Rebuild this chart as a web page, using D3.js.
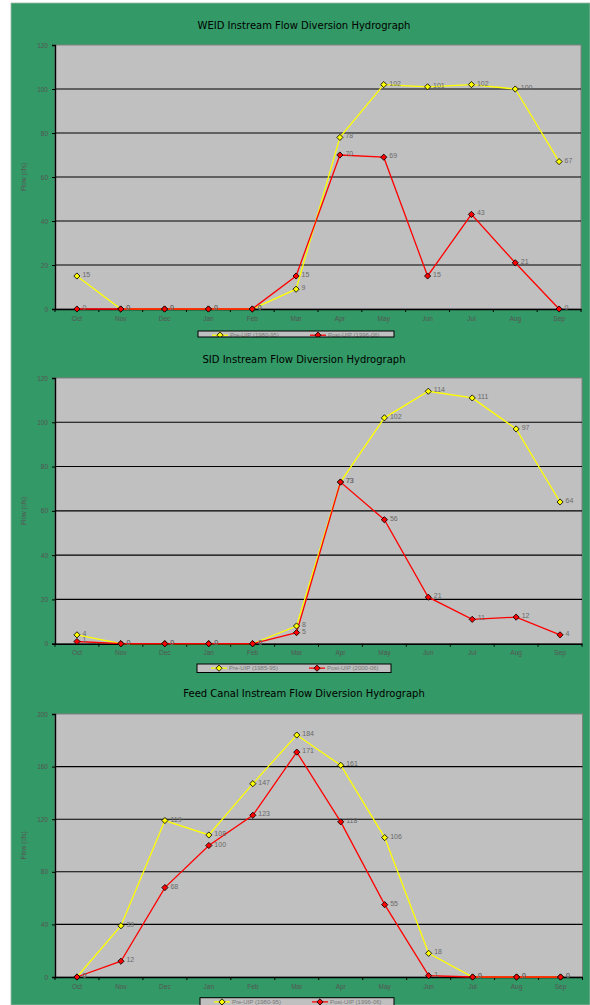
<!DOCTYPE html>
<html>
<head>
<meta charset="utf-8">
<script src="https://cdn.jsdelivr.net/npm/d3@7"></script>
<style>
  html, body { margin: 0; padding: 0; background: #ffffff; }
  svg { display: block; }
</style>
</head>
<body>
<svg id="chart" width="590" height="1005"></svg>
<script>
// Months of the water year
const months = ["Oct", "Nov", "Dec", "Jan", "Feb", "Mar", "Apr", "May", "Jun", "Jul", "Aug", "Sep"];

// WEID diversions (cfs)
const weidPre  = [15, 0, 0, 0, 0, 9, 78, 102, 101, 102, 100, 67];
const weidPost = [0, 0, 0, 0, 0, 15, 70, 69, 15, 43, 21, 0];

// SID diversions (cfs)
const sidPre  = [4, 0, 0, 0, 0, 8, 73, 102, 114, 111, 97, 64];
const sidPost = [1, 0, 0, 0, 0, 5, 73, 56, 21, 11, 12, 4];

// Feed Canal diversions (cfs)
const feedPre  = [0, 39, 119, 108, 147, 184, 161, 106, 18, 0, 0, 0];
const feedPost = [0, 12, 68, 100, 123, 171, 118, 55, 1, 0, 0, 0];

// Axis ticks
const ticks120 = [0, 20, 40, 60, 80, 100, 120];
const ticks200 = [0, 40, 80, 120, 160, 200];

// Titles and legend entries
const titles = [
  "WEID Instream Flow Diversion Hydrograph",
  "SID Instream Flow Diversion Hydrograph",
  "Feed Canal Instream Flow Diversion Hydrograph"
];
const legendWeid = ["Pre-UIP (1980-95)", "Post-UIP (1996-06)"];
const legendSid  = ["Pre-UIP (1985-95)", "Post-UIP (2000-06)"];
const legendFeed = ["Pre-UIP (1980-95)", "Post-UIP (1996-06)"];

const svg = d3.select("#chart");
const FONT = "'Liberation Sans', Arial, sans-serif";
const TITLE_FONT = "'DejaVu Sans', Verdana, sans-serif";

// Page backdrop
svg.append("rect").attr("x", 0).attr("y", 0).attr("width", 590).attr("height", 1005).attr("fill", "#ffffff");
svg.append("rect").attr("x", 11).attr("y", 3).attr("width", 579).attr("height", 1002)
  .attr("fill", "#339966").attr("stroke", "#9fb8a8").attr("stroke-width", 0.8);

const panels = [
  { title: titles[0], titleY: 28.5, pre: weidPre, post: weidPost, legend: legendWeid,
    box: { l: 55, r: 581, t: 45, b: 309 }, ticks: ticks120,
    leg: { x: 198, y: 331, w: 196, h: 6 } },
  { title: titles[1], titleY: 362.5, pre: sidPre, post: sidPost, legend: legendSid,
    box: { l: 55, r: 582, t: 378, b: 643.7 }, ticks: ticks120,
    leg: { x: 197, y: 664, w: 194, h: 8.5 } },
  { title: titles[2], titleY: 696.5, pre: feedPre, post: feedPost, legend: legendFeed,
    box: { l: 55, r: 582.5, t: 714, b: 977 }, ticks: ticks200,
    leg: { x: 200, y: 997.7, w: 194, h: 9 } }
];

// Square marker turned 45 degrees gives an even diamond
const diamond = d3.symbol().type(d3.symbolSquare).size(19);
const markerAt = (px, py) => `translate(${px},${py}) rotate(45)`;

panels.forEach((p, pi) => {
  const g = svg.append("g");
  const x = d3.scaleBand().domain(months).range([p.box.l, p.box.r]).padding(0);
  const y = d3.scaleLinear().domain([0, d3.max(p.ticks)]).range([p.box.b, p.box.t]);
  const cx = m => x(m) + x.bandwidth() / 2;

  // Title
  g.append("text").attr("x", 304).attr("y", p.titleY).attr("text-anchor", "middle")
    .attr("font-family", TITLE_FONT).attr("font-size", 10).attr("fill", "#000")
    .text(p.title);

  // Plot area
  g.append("rect").attr("x", p.box.l).attr("y", p.box.t)
    .attr("width", p.box.r - p.box.l).attr("height", p.box.b - p.box.t)
    .attr("fill", "#c0c0c0").attr("stroke", "#808080").attr("stroke-width", 1);

  // Horizontal gridlines
  g.append("g").selectAll("line").data(p.ticks.filter(t => t > 0 && t < d3.max(p.ticks)))
    .join("line")
    .attr("x1", p.box.l).attr("x2", p.box.r)
    .attr("y1", d => y(d)).attr("y2", d => y(d))
    .attr("stroke", "#000").attr("stroke-width", 1.1);

  // Y axis
  const yAxis = g.append("g").attr("transform", `translate(${p.box.l},0)`)
    .call(d3.axisLeft(y).tickValues(p.ticks).tickSize(3).tickPadding(4));
  yAxis.select(".domain").attr("stroke", "#000").attr("stroke-width", 1.4);
  yAxis.selectAll(".tick line").attr("stroke", "#000");
  yAxis.selectAll("text").attr("font-family", FONT).attr("font-size", 6.5).attr("fill", "#555");

  // X axis: ticks sit on category boundaries, labels in the middle
  const xAxis = g.append("g").attr("transform", `translate(0,${p.box.b})`)
    .call(d3.axisBottom(x).tickSize(0).tickPadding(7));
  xAxis.select(".domain").attr("stroke", "#000").attr("stroke-width", 1.4);
  xAxis.selectAll("text").attr("font-family", FONT).attr("font-size", 6.5).attr("fill", "#555");
  g.append("g").selectAll("line").data(months.concat(["end"]))
    .join("line")
    .attr("x1", (d, i) => p.box.l + i * x.bandwidth())
    .attr("x2", (d, i) => p.box.l + i * x.bandwidth())
    .attr("y1", p.box.b).attr("y2", p.box.b + 3)
    .attr("stroke", "#000").attr("stroke-width", 1);

  // Y axis title
  g.append("text")
    .attr("transform", `translate(${p.box.l - 29},${(p.box.t + p.box.b) / 2}) rotate(-90)`)
    .attr("text-anchor", "middle").attr("font-family", FONT).attr("font-size", 6.5)
    .attr("fill", "#555").text("Flow (cfs)");

  const line = d3.line().x((d, i) => cx(months[i])).y(d => y(d));
  const series = [
    { vals: p.pre, color: "#ffff00" },
    { vals: p.post, color: "#ff0000" }
  ];

  // Lines
  series.forEach(s => {
    g.append("path").datum(s.vals).attr("d", line)
      .attr("fill", "none").attr("stroke", s.color).attr("stroke-width", 1.3);
  });

  // Markers
  series.forEach(s => {
    g.append("g").selectAll("path").data(s.vals).join("path")
      .attr("d", diamond)
      .attr("transform", (d, i) => markerAt(cx(months[i]), y(d)))
      .attr("fill", s.color).attr("stroke", "#000").attr("stroke-width", 0.8);
  });

  // Value labels
  series.forEach(s => {
    g.append("g").selectAll("text").data(s.vals).join("text")
      .attr("x", (d, i) => cx(months[i]) + 5.5)
      .attr("y", d => y(d) + 1)
      .attr("font-family", FONT).attr("font-size", 7).attr("fill", "#6a6a6a")
      .text(d => d);
  });

  // Legend box (shown clipped to its frame)
  const L = p.leg;
  const clipId = "legclip" + pi;
  g.append("clipPath").attr("id", clipId).append("rect")
    .attr("x", L.x).attr("y", L.y).attr("width", L.w).attr("height", L.h);
  const lg = g.append("g").attr("clip-path", `url(#${clipId})`);
  lg.append("rect").attr("x", L.x).attr("y", L.y).attr("width", L.w).attr("height", L.h)
    .attr("fill", "#c0c0c0");
  const midY = L.y + 4.2;
  const items = [
    { x0: L.x + 14, color: "#ffff00", label: p.legend[0] },
    { x0: L.x + 112, color: "#ff0000", label: p.legend[1] }
  ];
  items.forEach(it => {
    lg.append("line").attr("x1", it.x0).attr("x2", it.x0 + 16).attr("y1", midY).attr("y2", midY)
      .attr("stroke", it.color).attr("stroke-width", 1.3);
    lg.append("path").attr("d", diamond).attr("transform", markerAt(it.x0 + 8, midY))
      .attr("fill", it.color).attr("stroke", "#000").attr("stroke-width", 0.8);
    lg.append("text").attr("x", it.x0 + 18).attr("y", midY + 2)
      .attr("font-family", FONT).attr("font-size", 6).attr("fill", "#777").text(it.label);
  });
  g.append("rect").attr("x", L.x).attr("y", L.y).attr("width", L.w).attr("height", L.h)
    .attr("fill", "none").attr("stroke", "#000").attr("stroke-width", 1);
});
</script>
</body>
</html>
